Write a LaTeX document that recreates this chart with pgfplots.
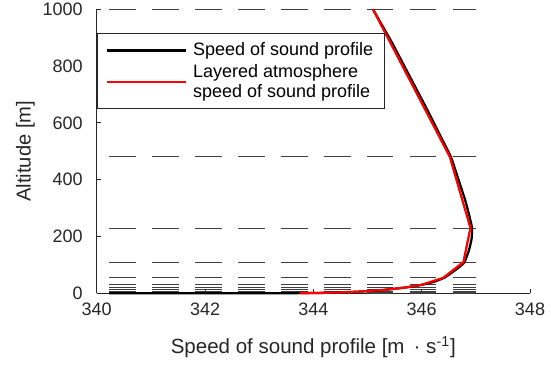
\documentclass[border=0pt]{standalone}
\usepackage{fontspec}
\setmainfont{Liberation Sans}
\usepackage{pgfplots}
\usepackage{pgfplotstable}
\pgfplotsset{compat=1.18}

% continuous speed of sound profile
\pgfplotstableread{
z c
0 340.23
0.02 341.0
0.1 342.3
0.3 343.1
0.6 343.6
1 344.0
2 344.3
3 344.45
4.5 344.68
6 344.85
9 345.1
12 345.3
16 345.5
20 345.68
25 345.86
30 346.0
40 346.22
55 346.42
75 346.57
90 346.68
110 346.79
150 346.87
190 346.92
230 346.93
280 346.87
330 346.8
400 346.68
480 346.54
560 346.33
640 346.12
720 345.9
800 345.68
880 345.46
950 345.25
1000 345.10
}\soundprofile

% layered atmosphere, one value per layer boundary
\pgfplotstableread{
z c
0 343.75
1 344.0
3 344.45
6 344.85
12 345.3
20 345.68
30 346.0
55 346.4
110 346.77
230 346.9
480 346.52
1000 345.1
}\layered

\definecolor{axisgray}{gray}{0.15}

\begin{document}
\begin{tikzpicture}
\begin{axis}[
  scale only axis,
  width=240.74pt, height=157.8pt,
  xmin=340, xmax=348, ymin=0, ymax=1000,
  xtick={340,342,...,348}, ytick={0,200,...,1000},
  axis lines=left,
  axis line style={-, axisgray, line width=0.55pt},
  tick align=inside,
  major tick length=2.4pt,
  tick style={axisgray, line width=0.55pt},
  ticklabel style={font=\fontsize{10}{12}\selectfont, text=axisgray},
  /pgf/number format/assume math mode=true,
  /pgf/number format/1000 sep={},
  xticklabel style={yshift=-1.9pt},
  yticklabel style={xshift=-4.3pt},
  xlabel={Speed of sound profile [m \,· s\textsuperscript{-1}]},
  ylabel={Altitude [m]},
  every axis x label/.style={at={([yshift=-33.5pt]axis description cs:0.5,0)},
    anchor=base, font=\fontsize{11.4}{13}\selectfont, text=axisgray},
  every axis y label/.style={at={([xshift=-36.7pt]axis description cs:0,0.5)},
    rotate=90, anchor=base, font=\fontsize{11.2}{13}\selectfont, text=axisgray},
  clip=false,
  legend cell align=left,
  legend image code/.code={\draw[#1] (0pt,0pt) -- (44pt,0pt);},
  legend style={
    at={([yshift=-13.2pt]axis description cs:0,1)}, anchor=north west,
    draw=axisgray, line width=0.55pt, fill=white,
    font=\fontsize{10}{11.1}\selectfont,
    inner xsep=4.6pt, inner ysep=5pt,
    nodes={inner xsep=1.6pt, inner ysep=0pt, align=left},
    column sep=1.8pt, row sep=3.2pt,
  },
]
% layer boundaries
\pgfplotsset{layer/.style={forget plot, black!75, line width=0.55pt,
  dash pattern=on 14.8pt off 9.05pt}}
\addplot[layer] coordinates {(340.232,0) (347,0)};
\addplot[layer] coordinates {(340.232,1) (347,1)};
\addplot[layer] coordinates {(340.232,3) (347,3)};
\addplot[layer] coordinates {(340.232,6) (347,6)};
\addplot[layer] coordinates {(340.232,12) (347,12)};
\addplot[layer] coordinates {(340.232,20) (347,20)};
\addplot[layer] coordinates {(340.232,30) (347,30)};
\addplot[layer] coordinates {(340.232,55) (347,55)};
\addplot[layer] coordinates {(340.232,110) (347,110)};
\addplot[layer] coordinates {(340.232,230) (347,230)};
\addplot[layer] coordinates {(340.232,480) (347,480)};
\addplot[layer] coordinates {(340.232,1000) (347,1000)};

\addplot[black, line width=1.25pt, smooth, tension=0.3] table[x=c, y=z] {\soundprofile};
\addlegendentry{Speed of sound profile}
\addplot[red, line width=1.25pt] table[x=c, y=z] {\layered};
\addlegendentry{Layered atmosphere\\speed of sound profile}
\end{axis}
\pgfresetboundingbox
\path[use as bounding box] (-53.73pt,-39.84pt) rectangle (252.4pt,162.97pt);
\end{tikzpicture}
\end{document}
